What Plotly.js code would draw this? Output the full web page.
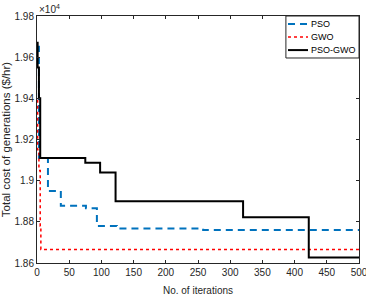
<!DOCTYPE html>
<html><head><meta charset="utf-8">
<script src="https://cdn.plot.ly/plotly-3.0.1.min.js"></script>
<style>html,body{margin:0;padding:0;background:#fff}#c{width:366px;height:296px}</style>
</head><body><div id="c"></div>
<script>
// values in units of 10^4 $/hr
var psoX = [0, 3, 17, 37, 76, 93, 124, 258, 500];
var psoY = [1.965, 1.911, 1.895, 1.8878, 1.8866, 1.878, 1.8768, 1.8760, 1.8756];
var gwoX = [0, 1, 3, 5, 6, 500];
var gwoY = [1.939, 1.915, 1.905, 1.878, 1.8666, 1.8666];
var hybX = [0, 1, 3, 5, 75, 98, 122, 320, 422, 500];
var hybY = [1.967, 1.955, 1.94, 1.911, 1.9087, 1.904, 1.890, 1.8822, 1.8627, 1.8627];
var xTicks = [0, 50, 100, 150, 200, 250, 300, 350, 400, 450, 500];
var yTicks = [1.86, 1.88, 1.9, 1.92, 1.94, 1.96, 1.98];
var yTickText = ['1.86', '1.88', '1.9', '1.92', '1.94', '1.96', '1.98'];
var seriesNames = ['PSO', 'GWO', 'PSO-GWO'];
var seriesColors = ['#0072BD', '#FF0000', '#000000'];
var seriesDash = ['7px,5px', 'dot', 'solid'];
var seriesWidth = [2, 1.5, 2];

var FAM = 'Liberation Sans, Arial, sans-serif';
var font = {family: FAM, size: 10, color: '#262626'};
var xs = [psoX, gwoX, hybX], ys = [psoY, gwoY, hybY];
var traces = seriesNames.map(function (n, i) {
  return {x: xs[i], y: ys[i], name: n, mode: 'lines', showlegend: false,
          line: {shape: 'hv', color: seriesColors[i], width: seriesWidth[i], dash: seriesDash[i]}};
});

// manual compact legend (MATLAB style), in paper coordinates
var legX0 = 0.773, legY0 = 0.830, lineX0 = 0.7795, lineX1 = 0.8416, textX = 0.845;
var rowY = [0.9676, 0.915, 0.862];
var shapes = [{type: 'rect', xref: 'paper', yref: 'paper', x0: legX0, x1: 1, y0: legY0, y1: 1,
               line: {color: '#262626', width: 1}, fillcolor: '#fff', layer: 'above'}];
var annotations = [{xref: 'paper', yref: 'paper', x: 0, y: 1, xanchor: 'left', yanchor: 'bottom', yshift: -1,
                    text: '×10<sup>4</sup>', showarrow: false, font: font}];
seriesNames.forEach(function (n, i) {
  shapes.push({type: 'line', xref: 'paper', yref: 'paper', x0: lineX0, x1: lineX1, y0: rowY[i], y1: rowY[i],
               line: {color: seriesColors[i], width: seriesWidth[i], dash: seriesDash[i]}, layer: 'above'});
  annotations.push({xref: 'paper', yref: 'paper', x: textX, y: rowY[i], xanchor: 'left', yanchor: 'middle',
                    text: n, showarrow: false, font: {family: FAM, size: 9, color: '#000'}});
});

var axisCommon = {showline: true, linecolor: '#262626', linewidth: 1, mirror: 'ticks', ticks: 'inside', ticklen: 3,
                  tickcolor: '#262626', showgrid: false, zeroline: false, tickfont: font, ticklabeloverflow: 'allow'};
var layout = {
  width: 366, height: 296,
  margin: {l: 37, r: 7, t: 16, b: 33},
  paper_bgcolor: '#fff', plot_bgcolor: '#fff',
  showlegend: false,
  xaxis: Object.assign({}, axisCommon, {range: [0, 500], tickvals: xTicks, ticktext: xTicks.map(String),
          title: {text: 'No. of iterations', font: font, standoff: 10}}),
  yaxis: Object.assign({}, axisCommon, {range: [1.86, 1.98], tickvals: yTicks, ticktext: yTickText,
          title: {text: 'Total cost of generations ($/hr)', font: {family: FAM, size: 11.5, color: '#262626'}, standoff: 3}}),
  shapes: shapes,
  annotations: annotations
};
Plotly.newPlot('c', traces, layout, {staticPlot: true, displayModeBar: false});
</script></body></html>
